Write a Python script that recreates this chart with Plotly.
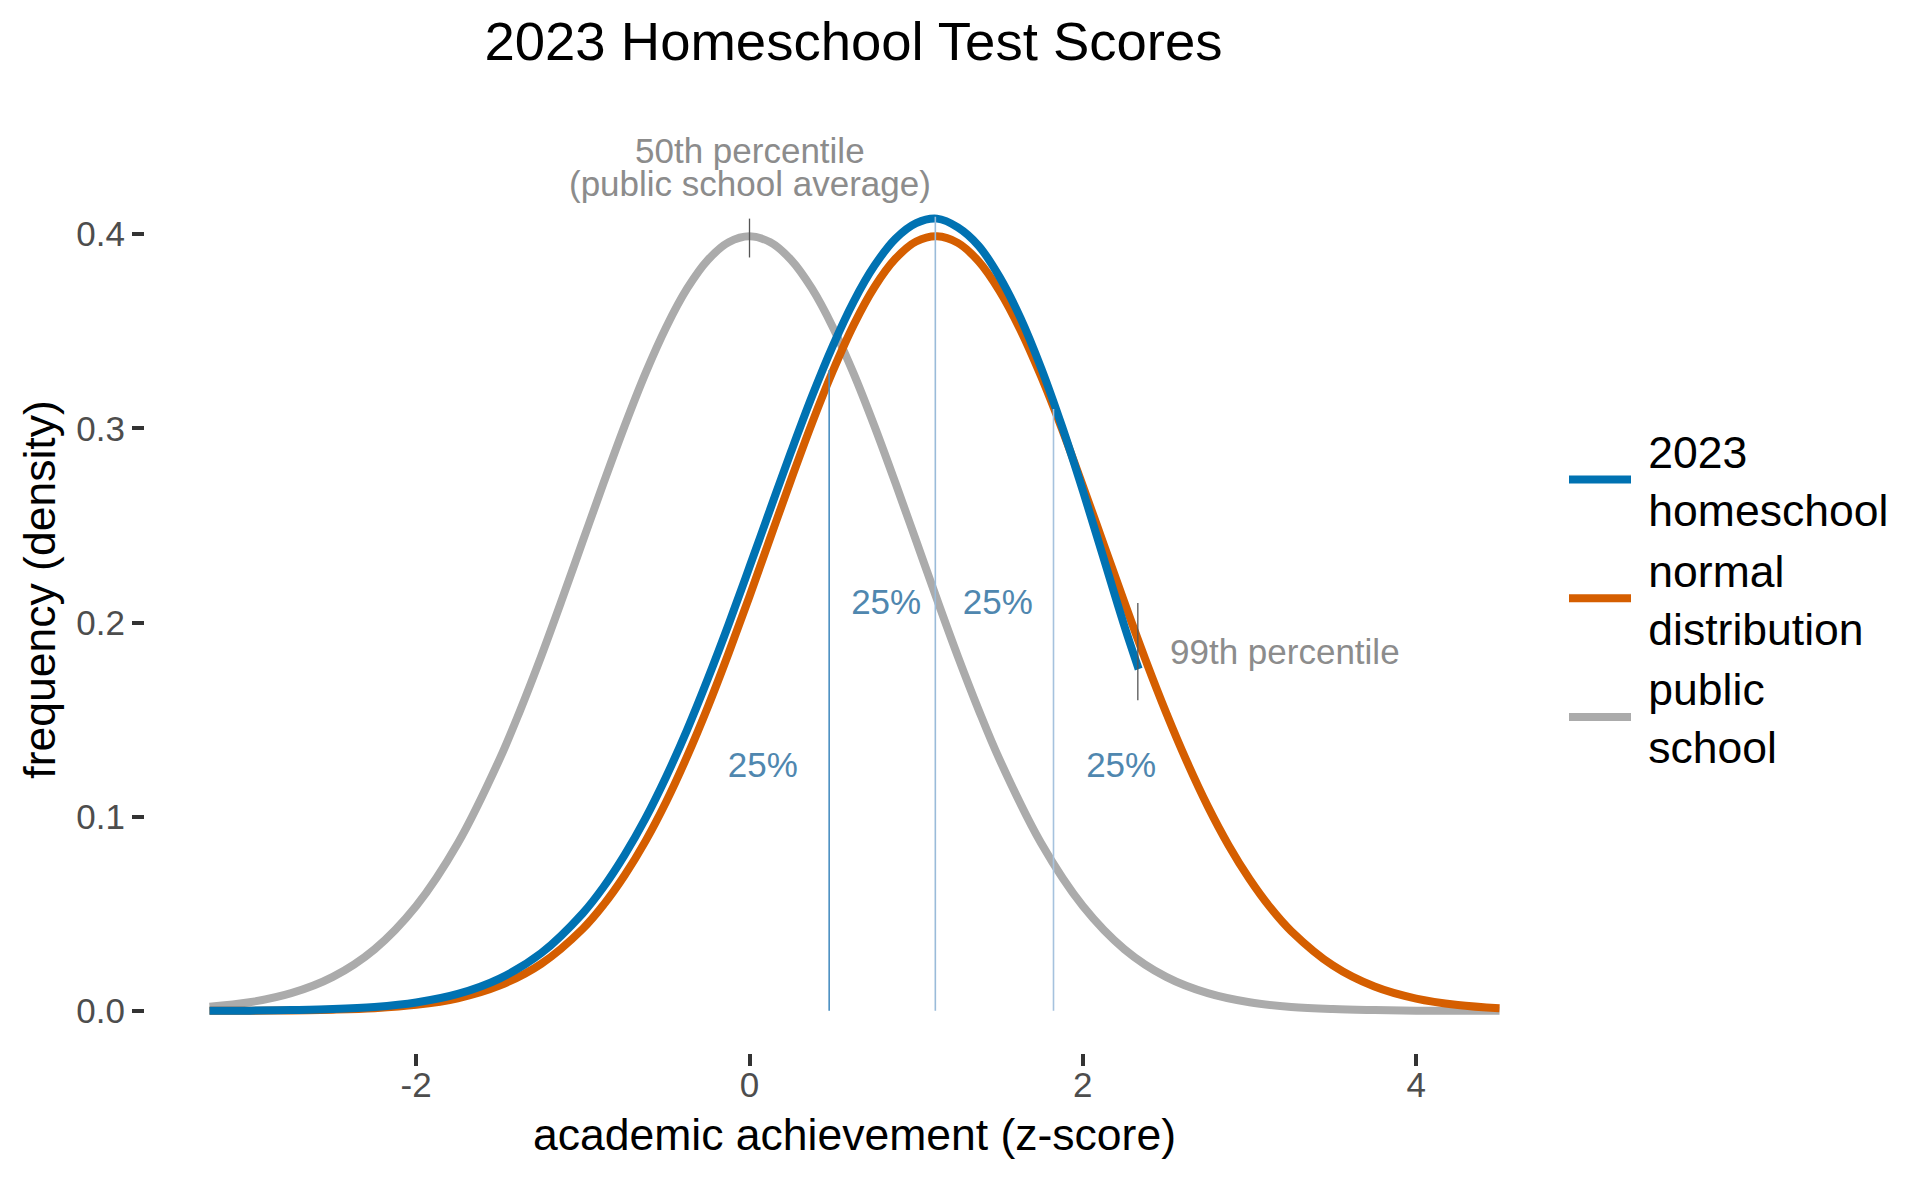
import plotly.graph_objects as go

# values (z-score, density)
public_x = [-3.24, -3.0, -2.75, -2.5, -2.25, -2.0, -1.75, -1.5, -1.375, -1.25, -1.125,
            -1.0, -0.875, -0.75, -0.625, -0.5, -0.375, -0.25, -0.125, 0.0, 0.125, 0.25,
            0.375, 0.5, 0.625, 0.75, 0.875, 1.0, 1.125, 1.25, 1.375, 1.5, 1.75, 2.0,
            2.25, 2.5, 2.75, 3.0, 3.25, 3.5, 3.75, 4.0, 4.25, 4.5]
public_school = [0.0021, 0.0044, 0.0091, 0.0175, 0.0317, 0.0540, 0.0863, 0.1295,
                 0.1550, 0.1826, 0.2119, 0.2420, 0.2720, 0.3011, 0.3282, 0.3521,
                 0.3719, 0.3867, 0.3958, 0.3989, 0.3958, 0.3867, 0.3719, 0.3521,
                 0.3282, 0.3011, 0.2720, 0.2420, 0.2119, 0.1826, 0.1550, 0.1295,
                 0.0863, 0.0540, 0.0317, 0.0175, 0.0091, 0.0044, 0.0020, 0.0009,
                 0.0004, 0.0001, 0.0000, 0.0000]

normal_x = [-3.24, -3.0, -2.75, -2.5, -2.25, -2.0, -1.75, -1.5, -1.25, -1.0, -0.875,
            -0.75, -0.625, -0.5, -0.375, -0.25, -0.125, 0.0, 0.125, 0.25, 0.375, 0.5,
            0.625, 0.75, 0.875, 1.0, 1.125, 1.25, 1.375, 1.5, 1.625, 1.75, 1.875, 2.0,
            2.125, 2.25, 2.375, 2.5, 2.625, 2.75, 2.875, 3.0, 3.125, 3.25, 3.5, 3.75,
            4.0, 4.25, 4.5]
normal_dist = [0.0000, 0.0001, 0.0002, 0.0006, 0.0014, 0.0031, 0.0065, 0.0130,
               0.0242, 0.0423, 0.0547, 0.0697, 0.0873, 0.1077, 0.1309, 0.1565,
               0.1843, 0.2135, 0.2437, 0.2737, 0.3027, 0.3295, 0.3533, 0.3728,
               0.3873, 0.3962, 0.3989, 0.3955, 0.3860, 0.3708, 0.3508, 0.3267,
               0.2996, 0.2704, 0.2403, 0.2102, 0.1810, 0.1535, 0.1282, 0.1053,
               0.0852, 0.0679, 0.0532, 0.0411, 0.0234, 0.0125, 0.0063, 0.0030,
               0.0013]

# homeschool curve stops at the 99th percentile of the public school scores
home_x = [-3.24, -3.0, -2.75, -2.5, -2.25, -2.0, -1.75, -1.5, -1.25, -1.0, -0.875,
          -0.75, -0.625, -0.5, -0.375, -0.25, -0.125, 0.0, 0.125, 0.25, 0.375, 0.5,
          0.625, 0.75, 0.875, 1.0, 1.125, 1.25, 1.375, 1.5, 1.625, 1.75, 1.875, 2.0,
          2.125, 2.25, 2.335]
homeschool = [0.0001, 0.0001, 0.0004, 0.0009, 0.0020, 0.0043, 0.0087, 0.0166,
              0.0297, 0.0503, 0.0639, 0.0802, 0.0990, 0.1206, 0.1446, 0.1710,
              0.1991, 0.2286, 0.2585, 0.2881, 0.3165, 0.3425, 0.3653, 0.3838,
              0.3976, 0.4057, 0.4080, 0.4035, 0.3940, 0.3780, 0.3570, 0.3310,
              0.3010, 0.2680, 0.2330, 0.1980, 0.1760]

# quartile lines of the homeschool distribution
quartile_x = [0.478, 1.115, 1.824]
quartile_top = [0.330, 0.409, 0.310]
quartile_colors = ['#4A8FC2', '#9ABBD9', '#A6C2DE']

pct_x = [0.08, 0.82, 1.49, 2.23]
pct_y = [0.125, 0.209, 0.209, 0.125]

# small marker segments for the 50th / 99th percentile
mark_x = [0.0, 2.33]
mark_lo = [0.388, 0.160]
mark_hi = [0.408, 0.210]

x_ticks = [-2, 0, 2, 4]
x_ticktext = ['-2', '0', '2', '4']
y_ticks = [0, 0.1, 0.2, 0.3, 0.4]
y_ticktext = ['0.0', '0.1', '0.2', '0.3', '0.4']

FONT = 'Liberation Sans'
BLUE = '#0072B2'
ORANGE = '#D55E00'
GREY = '#ABABAB'

# page body adds an 8px offset, so the figure is shifted back by that much
OFF = 8

data = [
    go.Scatter(x=public_x, y=public_school, mode='lines', name='&nbsp;public<br>&nbsp;school',
               line=dict(color=GREY, width=8, shape='spline', smoothing=1)),
    go.Scatter(x=normal_x, y=normal_dist, mode='lines', name='&nbsp;normal<br>&nbsp;distribution',
               line=dict(color=ORANGE, width=8, shape='spline', smoothing=1)),
    go.Scatter(x=home_x, y=homeschool, mode='lines', name='&nbsp;2023<br>&nbsp;homeschool',
               line=dict(color=BLUE, width=8, shape='spline', smoothing=1)),
]

for qx, qt, qc in zip(quartile_x, quartile_top, quartile_colors):
    data.append(go.Scatter(x=[qx, qx], y=[0, qt], mode='lines', showlegend=False,
                           line=dict(color=qc, width=1.6), hoverinfo='skip'))

for mx, lo, hi in zip(mark_x, mark_lo, mark_hi):
    data.append(go.Scatter(x=[mx, mx], y=[lo, hi], mode='lines', showlegend=False,
                           line=dict(color='#555555', width=1.3), hoverinfo='skip'))

data.append(go.Scatter(x=pct_x, y=pct_y, mode='text', text=['25%'] * len(pct_x),
                       textfont=dict(family=FONT, size=35, color='#4F87AF'),
                       showlegend=False, hoverinfo='skip'))

axis_common = dict(showgrid=False, zeroline=False, showline=False, ticks='outside',
                   ticklen=12, tickwidth=3.5, tickcolor='#333333',
                   tickfont=dict(family=FONT, size=35, color='#4D4D4D'))

left, top = 145 - OFF, 126 - OFF
plot_w, plot_h = 1419, 927

layout = go.Layout(
    width=1920, height=1182,
    paper_bgcolor='white', plot_bgcolor='white',
    margin=dict(l=left, r=1920 - left - plot_w, t=top, b=1182 - top - plot_h),
    title=dict(text='2023 Homeschool Test Scores', x=(853.5 - OFF) / 1920, xanchor='center',
               y=1 - (43 - OFF - 1.6) / 1182, yanchor='middle', yref='container',
               font=dict(family=FONT, size=54.5, color='black')),
    xaxis=dict(axis_common, range=[-3.627, 4.887], tickvals=x_ticks, ticktext=x_ticktext,
               ticklabelstandoff=-11,
               title=dict(text='academic achievement (z-score)', standoff=15,
                          font=dict(family=FONT, size=44.5, color='black'))),
    yaxis=dict(axis_common, range=[-0.0217, 0.4557], tickvals=y_ticks, ticktext=y_ticktext,
               title=dict(text='frequency (density)', standoff=6,
                          font=dict(family=FONT, size=44.5, color='black'))),
    legend=dict(x=1.0, xanchor='left', y=0.49, yanchor='middle', traceorder='reversed',
                font=dict(family=FONT, size=44.5, color='black'), itemwidth=62,
                tracegroupgap=0, bgcolor='rgba(0,0,0,0)'),
    showlegend=True,
    annotations=[
        dict(x=0, y=0.443, xref='x', yref='y', text='50th percentile', showarrow=False,
             xanchor='center', yanchor='middle', font=dict(family=FONT, size=35, color='#8C8C8C')),
        dict(x=0, y=0.426, xref='x', yref='y', text='(public school average)', showarrow=False,
             xanchor='center', yanchor='middle', font=dict(family=FONT, size=35, color='#8C8C8C')),
        dict(x=2.509, y=0.185, xref='x', yref='y', text='99th percentile', showarrow=False,
             xanchor='left', yanchor='middle', font=dict(family=FONT, size=35, color='#8C8C8C')),
    ],
)

fig = go.Figure(data=data, layout=layout)
fig.write_html('out.html')
